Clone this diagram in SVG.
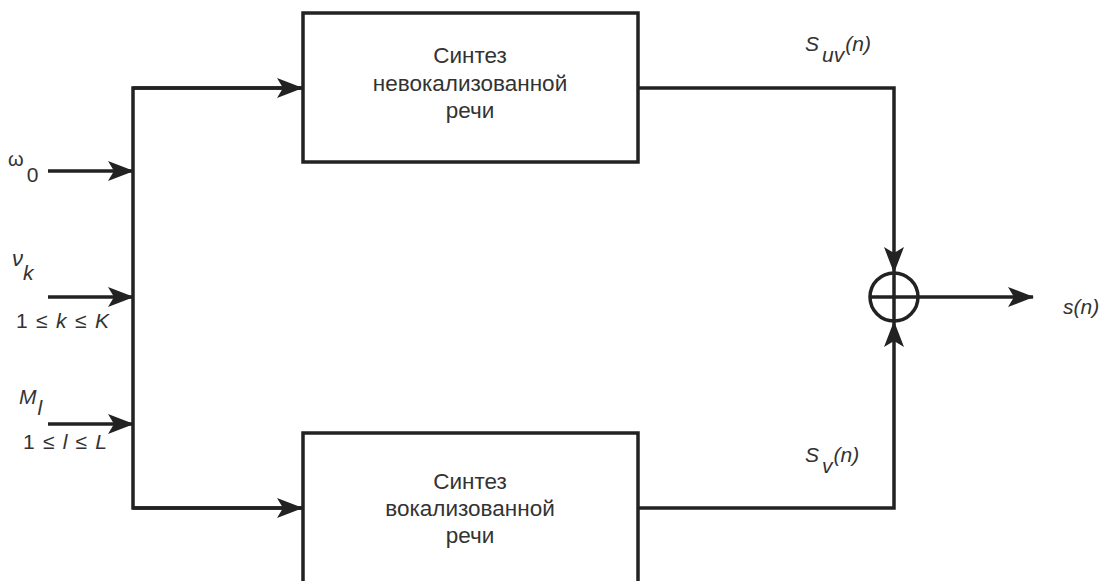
<svg xmlns="http://www.w3.org/2000/svg" width="1108" height="581" viewBox="0 0 1108 581">
<style>
.ln{fill:none;stroke:#222;stroke-width:3.5}
.box{fill:#fff;stroke:#222;stroke-width:3.5}
.t{font-family:"Liberation Sans",Arial,sans-serif;font-size:21px;fill:#333}
.b{font-size:22.5px}
.i{font-family:"Liberation Sans",Arial,sans-serif;font-size:21px;font-style:italic;fill:#333}
</style>
<defs>
<marker id="ah" viewBox="0 0 26 20" refX="25" refY="10" markerWidth="26" markerHeight="20" markerUnits="userSpaceOnUse" orient="auto">
<path d="M0,0 L26,10 L0,20 L6,10 Z" fill="#222"/>
</marker>
</defs>
<rect width="1108" height="581" fill="#fff"/>
<g id="connectors">
<line class="ln" x1="48" y1="171" x2="133" y2="171" marker-end="url(#ah)"/>
<line class="ln" x1="48" y1="297" x2="133" y2="297" marker-end="url(#ah)"/>
<line class="ln" x1="48" y1="424" x2="133" y2="424" marker-end="url(#ah)"/>
<polyline class="ln" points="302,88 133,88 133,508 302,508"/>
<line class="ln" x1="133" y1="88" x2="302" y2="88" marker-end="url(#ah)"/>
<line class="ln" x1="133" y1="508" x2="302" y2="508" marker-end="url(#ah)"/>
<polyline class="ln" points="638,88 894,88 894,272" marker-end="url(#ah)"/>
<polyline class="ln" points="638,508 894,508 894,322" marker-end="url(#ah)"/>
<line class="ln" x1="919" y1="297" x2="1033" y2="297" marker-end="url(#ah)"/>
</g>
<g id="unvoiced">
<rect class="box" x="303" y="13" width="335" height="149"/>
<text class="t b" text-anchor="middle" x="470" y="63">Синтез</text>
<text class="t b" text-anchor="middle" x="470" y="91">невокализованной</text>
<text class="t b" text-anchor="middle" x="470" y="118">речи</text>
</g>
<g id="voiced">
<rect class="box" x="303" y="433" width="335" height="152"/>
<text class="t b" text-anchor="middle" x="470" y="489">Синтез</text>
<text class="t b" text-anchor="middle" x="470" y="516">вокализованной</text>
<text class="t b" text-anchor="middle" x="470" y="543">речи</text>
</g>
<g id="sum">
<circle cx="894" cy="297" r="24" fill="none" stroke="#222" stroke-width="3.5"/>
<line class="ln" x1="870" y1="297" x2="918" y2="297"/>
<line class="ln" x1="894" y1="273" x2="894" y2="321"/>
</g>
<g id="labels">
<text class="t" x="8" y="166"><tspan font-size="20">ω</tspan><tspan dx="3" dy="16">0</tspan></text>
<text class="i" x="12" y="266"><tspan font-size="22">ν</tspan><tspan dx="0" dy="14">k</tspan></text>
<text class="t" x="16" y="328" textLength="93">1 ≤ <tspan font-style="italic">k</tspan> ≤ <tspan font-style="italic">K</tspan></text>
<text class="i" x="19" y="404">M<tspan dx="1" dy="11">l</tspan></text>
<text class="t" x="23" y="449" textLength="84">1 ≤ <tspan font-style="italic">l</tspan> ≤ <tspan font-style="italic">L</tspan></text>
<text class="i" x="805" y="51">S<tspan dy="11" dx="3">uv</tspan><tspan dy="-11" dx="1">(n)</tspan></text>
<text class="i" x="805" y="462">S<tspan dy="11" dx="3">v</tspan><tspan dy="-11" dx="1">(n)</tspan></text>
<text class="i" x="1063" y="314" font-size="22">s(n)</text>
</g>
</svg>
